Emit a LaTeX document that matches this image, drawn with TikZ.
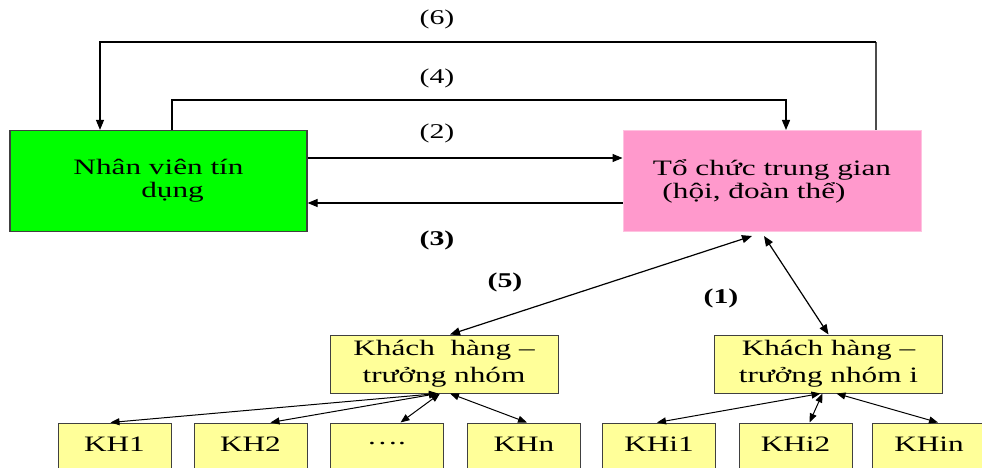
\documentclass[tikz,border=0pt]{standalone}
\usepackage{fontspec}
\setmainfont{Liberation Serif}[FakeStretch=1.42]
\usetikzlibrary{arrows.meta,calc}

\definecolor{boxgreen}{RGB}{0,255,0}
\definecolor{boxpink}{RGB}{255,153,204}
\definecolor{boxyellow}{RGB}{255,255,153}
\definecolor{edgegray}{RGB}{64,64,64}

\tikzset{
  every node/.style={font=\fontsize{22}{23}\selectfont, inner sep=0pt},
  bigbox/.style={minimum width=297pt, minimum height=101pt, align=center},
  greenbox/.style={bigbox, fill=boxgreen, draw=edgegray, line width=1.2pt},
  pinkbox/.style={bigbox, minimum width=298pt, fill=boxpink, draw=boxpink!60!white, line width=1pt},
  leadbox/.style={minimum width=228pt, minimum height=58pt, align=center,
    fill=boxyellow, draw=edgegray, line width=1pt, font=\fontsize{22}{27}\selectfont},
  memberbox/.style={minimum width=113pt, minimum height=60pt,
    fill=boxyellow, draw=edgegray, line width=1pt},
  flow/.style={line width=1.2pt, -{Triangle[length=10pt,width=8pt]}},
  link/.style={line width=1.2pt, {Triangle[length=10pt,width=8pt]}-{Triangle[length=10pt,width=8pt]}},
  sublink/.style={line width=1pt, {Triangle[length=9pt,width=7pt]}-{Triangle[length=9pt,width=7pt]}},
  steplabel/.style={font=\fontsize{21}{22}\selectfont},
  boldlabel/.style={font=\fontsize{21}{22}\selectfont\bfseries}
}

\begin{document}
\begin{tikzpicture}[x=1pt,y=-1pt]
\useasboundingbox (0,0) rectangle (982,468);
\clip (0,0) rectangle (982,468);

% main actors
\node[greenbox] (nv) at (158.5,181) {Nhân viên tín\\\hspace*{28pt}dụng};
\node[pinkbox] (tc) at (772,181) {Tổ chức trung gian\\(hội, đoàn thể)\hspace*{36pt}};

% group leaders
\node[leadbox] (kh) at (444,364) {Khách\ \ hàng –\\trưởng nhóm};
\node[leadbox] (khi) at (828.5,364) {Khách hàng –\\trưởng nhóm i};

% group members
\node[memberbox] (kh1) at (114.5,453) {};
\node[memberbox] (kh2) at (250.5,453) {};
\node[memberbox] (khd) at (386.5,453) {};
\node[memberbox] (khn) at (524,453) {};
\node[memberbox] (khi1) at (659,453) {};
\node[memberbox] (khi2) at (795.5,453) {};
\node[memberbox] (khin) at (929,453) {};
\node (t1) at (114.5,444) {KH1};
\node (t2) at (250.5,444) {KH2};
\node (td) at (386.5,444) {….};
\node (tn) at (524,444) {KHn};
\node (ti1) at (659,444) {KHi1};
\node (ti2) at (795.5,444) {KHi2};
\node (tin) at (929,444) {KHin};

% routing points for the loops above the boxes
\coordinate (r6a) at (876,42);
\coordinate (r6b) at (100,42);
\coordinate (r4a) at (172,100);
\coordinate (r4b) at (786,100);

% (6): from the organisation back to the loan officer
\draw[line width=1.2pt, draw=black!70] (tc.north -| r6a) -- (r6a);
\draw[flow] (r6a) -- (r6b) -- (r6b |- nv.north);
% (4): from the loan officer over to the organisation
\draw[flow] (nv.north -| r4a) -- (r4a) -- (r4b) -- (r4b |- tc.north);
% (2) and (3)
\draw[flow] ($(nv.east)+(0,-23)$) -- ($(tc.west)+(0,-23)$);
\draw[flow] ($(tc.west)+(0,22)$) -- ($(nv.east)+(0,22)$);

% (5) and (1)
\draw[link] ($(tc.south)+(-20,4)$) -- ($(kh.north)+(6,0)$);
\draw[link] ($(tc.south)+(-8,4)$) -- (khi.north);

% leader to members
\draw[sublink] ($(kh.south)+(-6,0)$) -- ($(kh1.north)+(-4,0)$);
\draw[sublink] ($(kh.south)+(-6,0)$) -- ($(kh2.north)+(20,0)$);
\draw[sublink] ($(kh.south)+(-4,0)$) -- ($(khd.north)+(14,0)$);
\draw[sublink] ($(kh.south)+(6,0)$) -- ($(khn.north)+(3,0)$);
\draw[sublink] ($(khi.south)+(-8,0)$) -- ($(khi1.north)+(-2,0)$);
\draw[sublink] ($(khi.south)+(-6,0)$) -- ($(khi2.north)+(14,0)$);
\draw[sublink] ($(khi.south)+(8,0)$) -- ($(khin.north)+(9,0)$);

% step numbers
\node[steplabel] (l6) at (437,19) {(6)};
\node[steplabel] (l4) at (437,78) {(4)};
\node[steplabel] (l2) at (437,133) {(2)};
\node[boldlabel] (l3) at (437,240) {(3)};
\node[boldlabel] (l5) at (505,282) {(5)};
\node[boldlabel] (l1) at (721,298) {(1)};
\end{tikzpicture}
\end{document}
